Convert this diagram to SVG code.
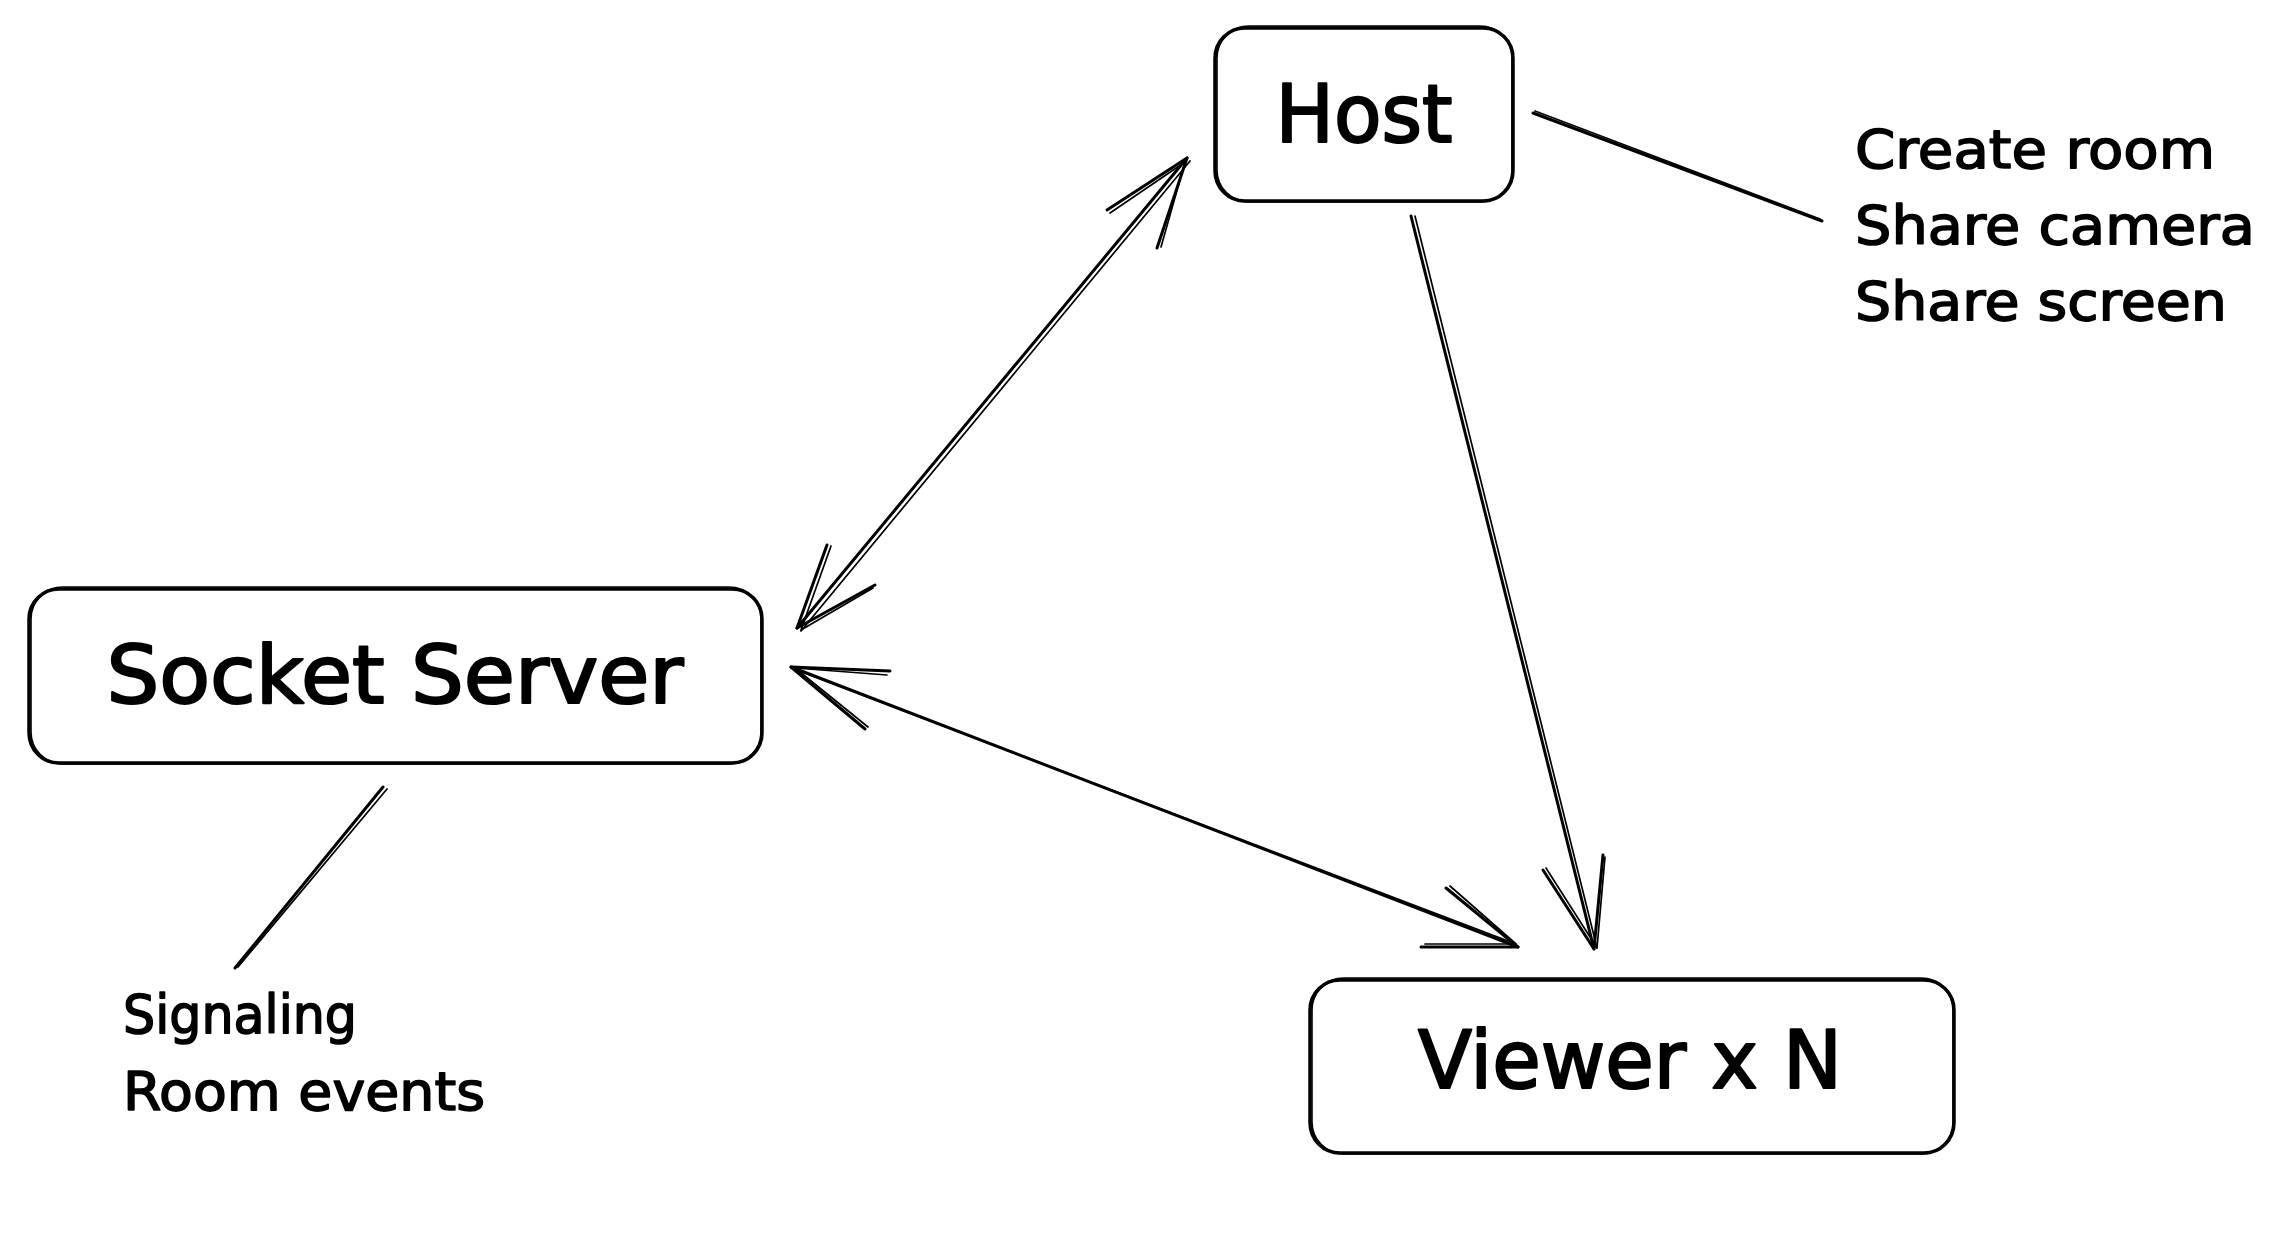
<svg xmlns="http://www.w3.org/2000/svg" width="2289" height="1243" viewBox="0 0 2289 1243">
  <style>
    .box { fill: #ffffff; stroke: #000000; stroke-width: 3.5; }
    .box2 { fill: none; stroke: #000000; stroke-width: 1.6; }
    .ln { fill: none; stroke: #000000; stroke-width: 3; stroke-linecap: round; stroke-linejoin: round; }
    .ln2 { fill: none; stroke: #000000; stroke-width: 1.7; stroke-linecap: round; stroke-linejoin: round; }
    .lbl { font-family: "DejaVu Sans", "Liberation Sans", sans-serif; font-size: 80px; fill: #000000; stroke: #000000; stroke-width: 2.2; stroke-linejoin: round; text-anchor: middle; }
    .note { font-family: "DejaVu Sans", "Liberation Sans", sans-serif; font-size: 54px; fill: #000000; stroke: #000000; stroke-width: 1.6; stroke-linejoin: round; }
  </style>
  <rect width="2289" height="1243" fill="#ffffff"/>

  <g id="connectors">
    <!-- Host <-> Socket Server -->
    <path class="ln" d="M1187,158 L797,628"/>
    <path class="ln2" d="M1190,161 L801,631"/>
    <path class="ln" d="M1107,210 L1187,158 L1157,248"/>
    <path class="ln2" d="M1110,213 L1185,162 L1161,247"/>
    <path class="ln" d="M827,545 L797,628 L875,585"/>
    <path class="ln2" d="M831,546 L801,630 L873,588"/>
    <!-- Socket Server <-> Viewer -->
    <path class="ln" d="M791,667 L1518,947"/>
    <path class="ln2" d="M794,669 L1516,944"/>
    <path class="ln" d="M890,671 L791,667 L865,729"/>
    <path class="ln2" d="M887,675 L795,668 L868,727"/>
    <path class="ln" d="M1446,888 L1518,947 L1421,947"/>
    <path class="ln2" d="M1450,886 L1516,944 L1425,944"/>
    <!-- Host -> Viewer -->
    <path class="ln" d="M1411,216 L1594,949"/>
    <path class="ln2" d="M1415,216 L1597,948"/>
    <path class="ln" d="M1543,870 L1594,949 L1603,855"/>
    <path class="ln2" d="M1546,868 L1597,948 L1605,857"/>
    <!-- note lines -->
    <path class="ln" d="M1533,113 L1822,221"/>
    <path class="ln2" d="M1535,111 L1820,219"/>
    <path class="ln" d="M383,787 L235,968"/>
    <path class="ln2" d="M387,789 L238,967"/>
  </g>

  <g id="host">
    <rect class="box" x="1215" y="28" width="298" height="173" rx="30"/>
    <rect class="box2" x="1217" y="26" width="295" height="176" rx="32"/>
    <text class="lbl" x="1364" y="142" textLength="177" lengthAdjust="spacingAndGlyphs">Host</text>
  </g>

  <g id="socket-server">
    <rect class="box" x="29" y="589" width="733" height="174" rx="30"/>
    <rect class="box2" x="31" y="587" width="730" height="177" rx="32"/>
    <text class="lbl" x="395" y="703" textLength="577" lengthAdjust="spacingAndGlyphs">Socket Server</text>
  </g>

  <g id="viewer">
    <rect class="box" x="1310" y="980" width="644" height="173" rx="30"/>
    <rect class="box2" x="1312" y="978" width="641" height="176" rx="32"/>
    <text class="lbl" x="1630" y="1088" textLength="424" lengthAdjust="spacingAndGlyphs">Viewer x N</text>
  </g>

  <g id="host-note">
    <text class="note" x="1855" y="168" textLength="360" lengthAdjust="spacingAndGlyphs">Create room</text>
    <text class="note" x="1855" y="244" textLength="400" lengthAdjust="spacingAndGlyphs">Share camera</text>
    <text class="note" x="1855" y="320" textLength="372" lengthAdjust="spacingAndGlyphs">Share screen</text>
  </g>

  <g id="server-note">
    <text class="note" x="123" y="1033" textLength="234" lengthAdjust="spacingAndGlyphs">Signaling</text>
    <text class="note" x="123" y="1110" textLength="362" lengthAdjust="spacingAndGlyphs">Room events</text>
  </g>
</svg>
